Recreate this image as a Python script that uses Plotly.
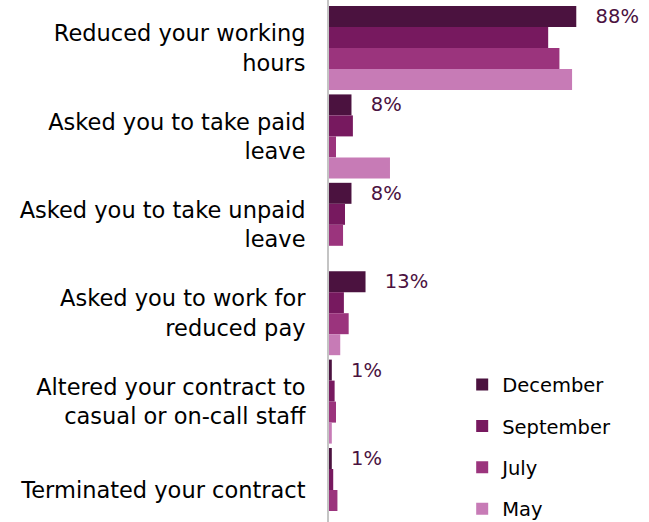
import plotly.graph_objects as go

categories = [
    "Reduced your working<br>hours",
    "Asked you to take paid<br>leave",
    "Asked you to take unpaid<br>leave",
    "Asked you to work for<br>reduced pay",
    "Altered your contract to<br>casual or on-call staff",
    "Terminated your contract",
]
series_names = ["December", "September", "July", "May"]
december = [88, 8, 8, 13, 1, 1]
september = [78, 8.5, 5.7, 5.3, 2, 1.5]
july = [82, 2.5, 5, 7, 2.5, 3]
may = [86.5, 21.7, 0, 4, 1, 0]
colors = ["#4B123F", "#77195F", "#9B347D", "#C77BB6"]

values = [december, september, july, may]
FONT = "DejaVu Sans"

fig = go.Figure()
for i, (name, vals, col) in enumerate(zip(series_names, values, colors)):
    kw = {}
    if name == "December":
        kw = dict(
            text=[f"\u00a0\u00a0\u2009{v:g}%" for v in vals],
            textposition="outside",
            textfont=dict(family=FONT, size=19.5, color=colors[0]),
            constraintext="none",
            cliponaxis=False,
        )
    fig.add_trace(go.Bar(
        y=list(range(len(categories))), x=vals, name=name, orientation="h",
        marker=dict(color=col, line=dict(width=0)),
        legendgroup=name, hoverinfo="skip", **kw,
    ))

fig.update_layout(
    width=649, height=522,
    margin=dict(l=329, r=39, t=0, b=0, autoexpand=False),
    paper_bgcolor="white", plot_bgcolor="white",
    barmode="group", bargap=0.05, bargroupgap=0,
    font=dict(family=FONT, color="black"),
    showlegend=True,
    legend=dict(
        x=0.474, y=0.300, xanchor="left", yanchor="top",
        font=dict(family=FONT, size=19.5, color="black"),
        traceorder="grouped", tracegroupgap=13,
        bgcolor="rgba(0,0,0,0)",
    ),
    xaxis=dict(range=[0, 100], visible=False, showgrid=False, zeroline=False,
               automargin=False),
    yaxis=dict(
        range=[5.362, -0.543],
        tickmode="array", tickvals=list(range(len(categories))), ticktext=categories,
        tickfont=dict(family=FONT, size=22.5, color="black"),
        showline=True, linecolor="#c4c4c4", linewidth=2,
        showgrid=False, zeroline=False, ticks="", ticklabelstandoff=17,
        automargin=False,
    ),
)

fig.write_html("out.html", post_script="document.body.style.margin='0';",
               config={"displayModeBar": False})
